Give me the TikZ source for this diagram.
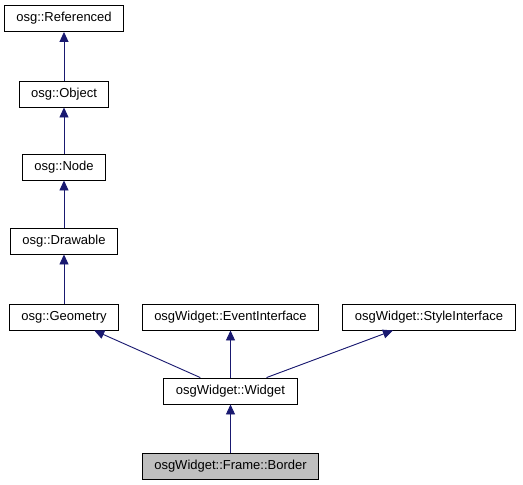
\documentclass[tikz,border=0pt]{standalone}
\usepackage{fontspec}
\setmainfont{Liberation Sans}
\usetikzlibrary{positioning,arrows.meta}
\definecolor{edgeblue}{RGB}{25,25,112}
\definecolor{curgray}{RGB}{191,191,191}
\tikzstyle{cls} = [draw, rectangle, minimum height=26pt, inner xsep=12pt, line width=0.9pt, font=\fontsize{13}{15}\selectfont]
\tikzstyle{current} = [cls, fill=curgray]
\tikzstyle{inherit} = [<-, draw=edgeblue, fill=edgeblue, line width=0.9pt]

\begin{document}
\begin{tikzpicture}[x=1pt, y=1pt, node distance=74pt, >={Triangle[length=10pt,width=9pt]}]
\useasboundingbox (0,0) rectangle (523,-485);

\node [cls] (referenced) at (64,-18.5) {osg::Referenced};
\node [cls, below of=referenced, node distance=75.5pt] (object) {osg::Object};
\node [cls, below of=object, node distance=73pt] (node) {osg::Node};
\node [cls, below of=node] (drawable) {osg::Drawable};
\node [cls, below of=drawable, node distance=76pt] (geometry) {osg::Geometry};

\node [cls, right of=geometry, node distance=166.5pt] (event) {osgWidget::EventInterface};
\node [cls, right of=event, node distance=198.5pt] (style) {osgWidget::StyleInterface};

\node [cls, below of=event] (widget) {osgWidget::Widget};
\node [current, below of=widget, node distance=75pt] (border) {osgWidget::Frame::Border};

\draw [inherit] (referenced) -- (object);
\draw [inherit] (object) -- (node);
\draw [inherit] (node) -- (drawable);
\draw [inherit] (drawable) -- (geometry);

\draw [inherit] (geometry) -- (widget);
\draw [inherit] (event) -- (widget);
\draw [inherit] (style) -- (widget);
\draw [inherit] (widget) -- (border);

\end{tikzpicture}
\end{document}
